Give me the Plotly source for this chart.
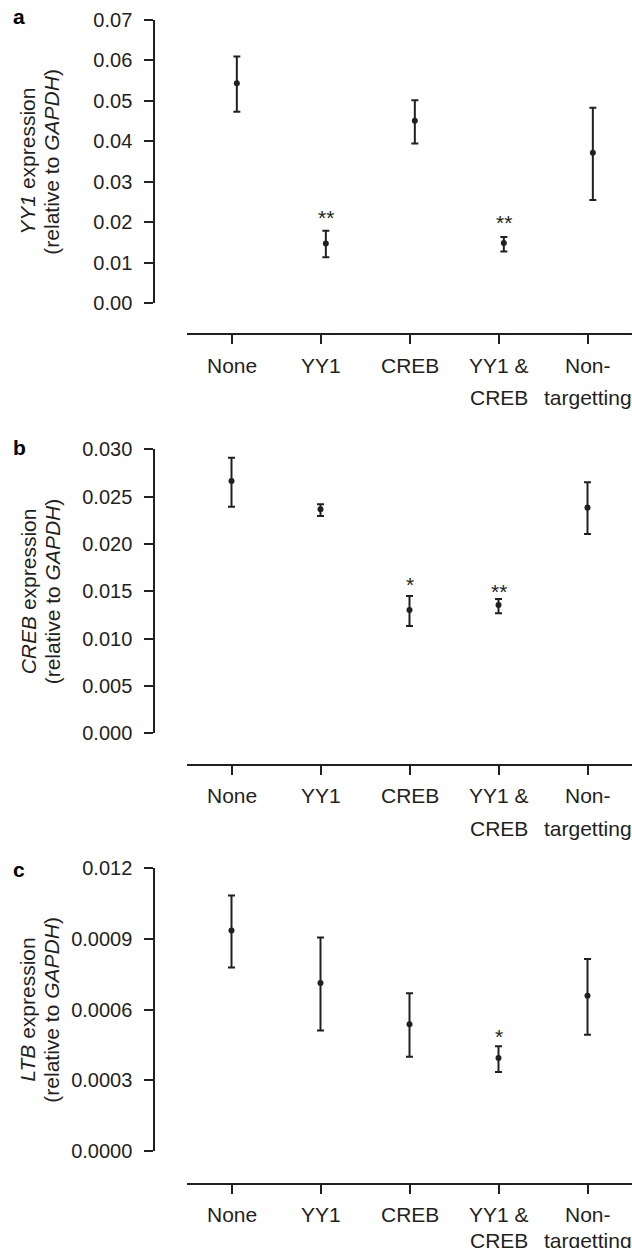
import plotly.graph_objects as go

W, H = 632, 1248

categories = ["None", "YY1", "CREB", "YY1 &<br>CREB", "Non-<br>targetting"]

# Panel a: YY1 expression
a_mean = [0.0544, 0.0148, 0.0451, 0.0149, 0.0372]
a_upper = [0.0610, 0.0179, 0.0502, 0.0164, 0.0483]
a_lower = [0.0473, 0.0114, 0.0395, 0.0128, 0.0255]
a_stars = ["", "**", "", "**", ""]
a_star_y = [None, 0.0225, None, 0.0212, None]
a_ticks = [0.00, 0.01, 0.02, 0.03, 0.04, 0.05, 0.06, 0.07]
a_ticktext = ["0.00", "0.01", "0.02", "0.03", "0.04", "0.05", "0.06", "0.07"]

# Panel b: CREB expression
b_mean = [0.02666, 0.02366, 0.01303, 0.01356, 0.02384]
b_upper = [0.02912, 0.02419, 0.01451, 0.01419, 0.02651]
b_lower = [0.02394, 0.02296, 0.01134, 0.01268, 0.02106]
b_stars = ["", "", "*", "**", ""]
b_star_y = [None, None, 0.0162, 0.01556, None]
b_ticks = [0.000, 0.005, 0.010, 0.015, 0.020, 0.025, 0.030]
b_ticktext = ["0.000", "0.005", "0.010", "0.015", "0.020", "0.025", "0.030"]

# Panel c: LTB expression
c_mean = [0.000935, 0.000713, 0.000538, 0.000395, 0.000659]
c_upper = [0.001084, 0.000906, 0.000669, 0.000445, 0.000815]
c_lower = [0.000779, 0.000512, 0.000401, 0.000336, 0.000494]
c_stars = ["", "", "", "*", ""]
c_star_y = [None, None, None, 0.000508, None]
c_ticks = [0.0, 0.0003, 0.0006, 0.0009, 0.0012]
c_ticktext = ["0.0000", "0.0003", "0.0006", "0.0009", "0.012"]

# layout (pixels); tick_off = small offset of the category ticks seen in panel a
panels = [
    dict(letter="a", mean=a_mean, up=a_upper, lo=a_lower, stars=a_stars, sy=a_star_y,
         ticks=a_ticks, ticktext=a_ticktext, gene="YY1",
         ytop=20, ybot=303.3, xline=334.3, letter_y=16.5, tick_off=0.06, lsp=32.5),
    dict(letter="b", mean=b_mean, up=b_upper, lo=b_lower, stars=b_stars, sy=b_star_y,
         ticks=b_ticks, ticktext=b_ticktext, gene="CREB",
         ytop=449.3, ybot=733.3, xline=764.7, letter_y=447.5, tick_off=0.0, lsp=32.5),
    dict(letter="c", mean=c_mean, up=c_upper, lo=c_lower, stars=c_stars, sy=c_star_y,
         ticks=c_ticks, ticktext=c_ticktext, gene="LTB",
         ytop=868, ybot=1151.3, xline=1184, letter_y=869.5, tick_off=0.0, lsp=26),
]

INK = "#231f20"
FONT = "Liberation Sans, Arial, Helvetica, sans-serif"

def fx(px):
    return px / W

def fy(py):
    return 1 - py / H

fig = go.Figure()
layout = dict(
    width=W, height=H, autosize=False,
    margin=dict(l=0, r=0, t=0, b=0, autoexpand=False),
    paper_bgcolor="white", plot_bgcolor="white",
    showlegend=False,
    font=dict(family=FONT, size=21, color=INK),
)
annotations = []

AX_X = 154.3
X0, X1 = 187, 632
xs = list(range(len(categories)))

for i, p in enumerate(panels):
    n = str(i + 1) if i else ""
    xname, yname = "x" + n, "y" + n
    off = p["tick_off"]
    tickpos = [x - off for x in xs]
    fig.add_trace(go.Scatter(
        x=xs, y=p["mean"], xaxis=xname, yaxis=yname, mode="markers",
        marker=dict(color=INK, size=6),
        error_y=dict(type="data", symmetric=False,
                     array=[u - m for u, m in zip(p["up"], p["mean"])],
                     arrayminus=[m - l for m, l in zip(p["mean"], p["lo"])],
                     color=INK, thickness=2, width=3.5),
        cliponaxis=False,
    ))
    yr = [p["ticks"][0], p["ticks"][-1]]
    layout["xaxis" + n] = dict(
        domain=[fx(X0), fx(X1)], range=[-0.5 - off, 4.5 - off],
        anchor="free", position=fy(p["xline"]),
        tickmode="array", tickvals=tickpos, showticklabels=False,
        showline=True, linecolor=INK, linewidth=2,
        ticks="outside", ticklen=9, tickwidth=2, tickcolor=INK,
        showgrid=False, zeroline=False, fixedrange=True, automargin=False,
    )
    layout["yaxis" + n] = dict(
        domain=[fy(p["ybot"]), fy(p["ytop"])], range=yr,
        anchor="free", position=fx(AX_X),
        tickmode="array", tickvals=p["ticks"], ticktext=p["ticktext"],
        showline=True, linecolor=INK, linewidth=2,
        ticks="outside", ticklen=9, tickwidth=2, tickcolor=INK,
        ticklabelstandoff=8,
        showgrid=False, zeroline=False, fixedrange=True, automargin=False,
        tickfont=dict(size=20, color=INK, family=FONT),
    )
    # category labels (one text per line, to match the original line spacing)
    for j, cat in enumerate(categories):
        for k, line in enumerate(cat.split("<br>")):
            annotations.append(dict(
                x=tickpos[j], y=fy(p["xline"] + 30.8 + p["lsp"] * k), xref=xname, yref="paper",
                text=line, showarrow=False,
                font=dict(size=21, color=INK, family=FONT),
                xanchor="center", yanchor="middle",
            ))
    # significance stars
    for j, (s, sy) in enumerate(zip(p["stars"], p["sy"])):
        if s:
            annotations.append(dict(
                x=j, y=sy, xref=xname, yref=yname, text=s, showarrow=False,
                font=dict(size=21, color=INK, family=FONT),
                xanchor="center", yanchor="middle", yshift=-5,
            ))
    # panel letter
    annotations.append(dict(
        x=fx(19), y=fy(p["letter_y"]), xref="paper", yref="paper",
        text="<b>" + p["letter"] + "</b>", showarrow=False,
        font=dict(size=21, color="black", family=FONT),
        xanchor="center", yanchor="middle",
    ))
    # y-axis title (two lines)
    ymid = (p["ytop"] + p["ybot"]) / 2
    annotations.append(dict(
        x=fx(28), y=fy(ymid), xref="paper", yref="paper",
        text="<i>" + p["gene"] + "</i> expression", showarrow=False, textangle=-90,
        font=dict(size=21, color=INK, family=FONT),
        xanchor="center", yanchor="middle",
    ))
    annotations.append(dict(
        x=fx(52), y=fy(ymid), xref="paper", yref="paper",
        text="(relative to <i>GAPDH</i>)", showarrow=False, textangle=-90,
        font=dict(size=21, color=INK, family=FONT),
        xanchor="center", yanchor="middle",
    ))

layout["annotations"] = annotations
fig.update_layout(**layout)
fig.write_html(
    "out.html",
    config={"displayModeBar": False},
    post_script="document.body.style.margin='0';document.body.style.overflow='hidden';",
)
